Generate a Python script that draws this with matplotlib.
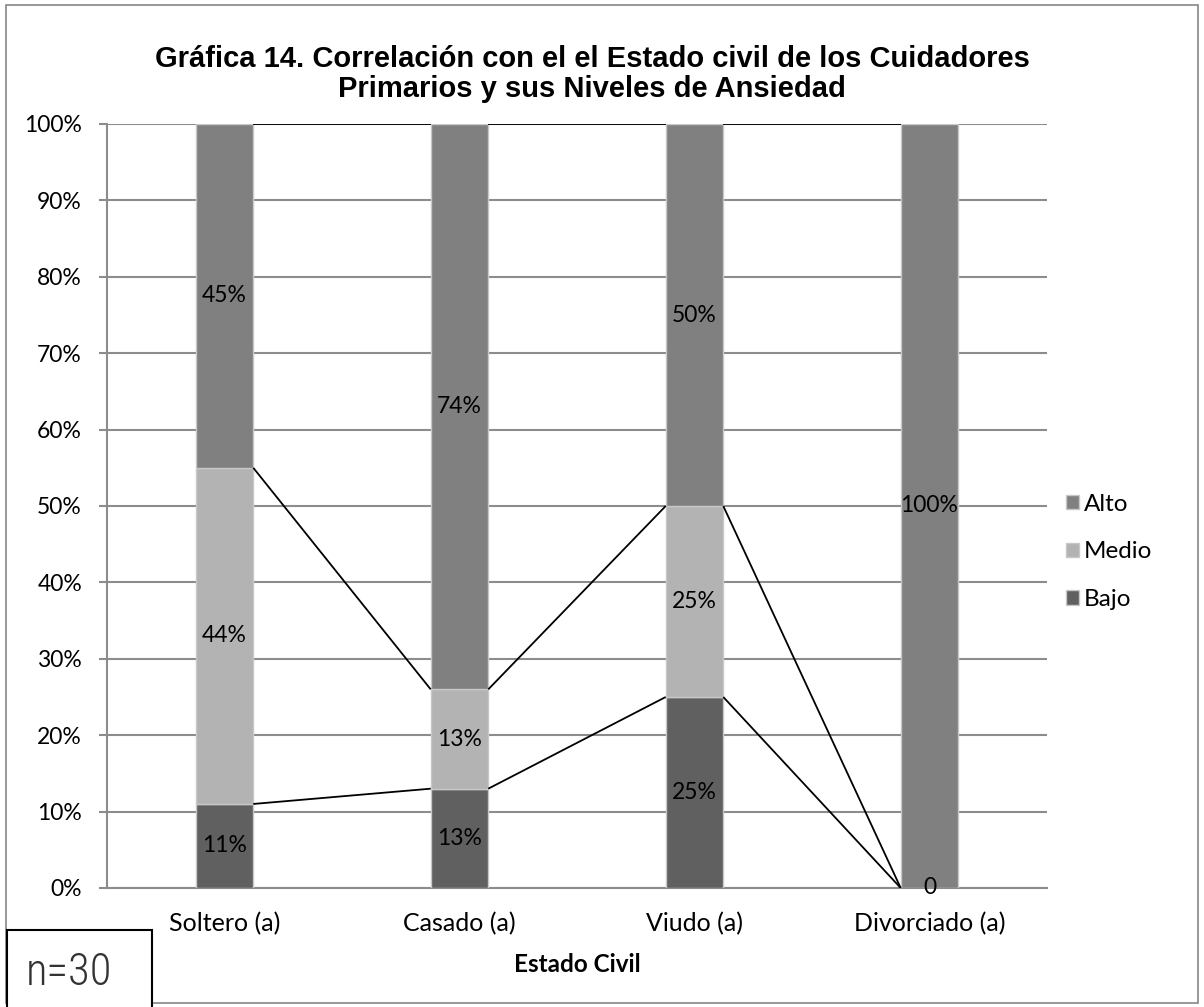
import matplotlib
matplotlib.use("Agg")
import matplotlib.pyplot as plt
from matplotlib.patches import Rectangle
import numpy as np

categories = ["Soltero (a)", "Casado (a)", "Viudo (a)", "Divorciado (a)"]
series_names = ["Bajo", "Medio", "Alto"]
bajo = [11, 13, 25, 0]
medio = [44, 13, 25, 0]
alto = [45, 74, 50, 100]
yticks = [0, 10, 20, 30, 40, 50, 60, 70, 80, 90, 100]
title1 = "Gráfica 14. Correlación con el el Estado civil de los Cuidadores"
title2 = "Primarios y sus Niveles de Ansiedad"
xlabel = "Estado Civil"
note = "n=30"

colors = {"Bajo": "#606060", "Medio": "#b3b3b3", "Alto": "#808080"}
W, H = 1204, 1007
fig = plt.figure(figsize=(W / 100, H / 100), dpi=100)

def fx(px):
    return px / W

def fy(py):
    return 1 - py / H

FS = 16.5
FAM = ["Lato", "DejaVu Sans"]

ax = fig.add_axes([fx(107), fy(888), fx(1047) - fx(107), (888 - 124) / H])
x = np.arange(len(categories))
bw = 0.245
values = [bajo, medio, alto]
bottom = np.zeros(len(categories))
handles = []
for name, vals in zip(series_names, values):
    v = np.array(vals, dtype=float)
    b = ax.bar(x, v, bw, bottom=bottom, color=colors[name], edgecolor="#c8c8c8",
               linewidth=1.0, zorder=3, label=name)
    handles.append(b)
    for xi, vi, bi in zip(x, v, bottom):
        txt = "0" if vi == 0 else f"{int(vi)}%"
        if vi == 0 and name != "Bajo":
            continue
        ax.text(xi, bi + vi / 2, txt, ha="center", va="center", fontsize=FS,
                family=FAM, color="#000000", zorder=5)
    tops = bottom + v
    for i in range(len(categories) - 1):
        ax.plot([x[i] + bw / 2, x[i + 1] - bw / 2], [tops[i], tops[i + 1]],
                color="black", lw=1.3, zorder=4, solid_capstyle="butt")
    bottom = tops

ax.set_xlim(-0.5, len(categories) - 0.5)
ax.set_ylim(0, 100)
ax.set_yticks(yticks)
ax.set_yticklabels([f"{t}%" for t in yticks], family=FAM, fontsize=FS)
ax.set_xticks(x)
ax.set_xticklabels(categories, family=FAM, fontsize=18)
ax.tick_params(axis="x", length=0, pad=17)
ax.tick_params(axis="y", length=6, width=1.5, color="#8c8c8c", pad=12)
ax.yaxis.grid(True, color="#8c8c8c", lw=1.5, zorder=0)
ax.set_axisbelow(True)
for s in ["top", "right"]:
    ax.spines[s].set_visible(False)
for s in ["left", "bottom"]:
    ax.spines[s].set_color("#8c8c8c")
    ax.spines[s].set_linewidth(1.5)
ax.set_xlabel(xlabel, family=FAM, fontsize=17.5, fontweight="bold")
ax.xaxis.set_label_coords(0.5, -(953 - 888) / 764)

fig.text(fx(592), fy(59), title1, ha="center", va="center", fontsize=21,
         fontweight="bold", family=["Liberation Sans", "DejaVu Sans"])
fig.text(fx(592), fy(89), title2, ha="center", va="center", fontsize=21,
         fontweight="bold", family=["Liberation Sans", "DejaVu Sans"])

leg = fig.legend(handles[::-1], series_names[::-1], loc="center left",
                 bbox_to_anchor=(fx(1066), fy(552)), frameon=False,
                 prop={"family": FAM, "size": 17.5},
                 handlelength=0.55, handleheight=0.55, handletextpad=0.2,
                 labelspacing=1.1, borderaxespad=0, borderpad=0)

fig.add_artist(Rectangle((fx(6), fy(1003)), fx(1198) - fx(6), (1003 - 5) / H,
                         transform=fig.transFigure, fill=False, edgecolor="#868686", lw=1.2))
fig.add_artist(Rectangle((fx(7), fy(1010)), fx(152) - fx(7), (1010 - 930) / H,
                         transform=fig.transFigure, facecolor="white", edgecolor="black", lw=1.5, zorder=10))
fig.text(fx(69), fy(973), note, ha="center", va="center", fontsize=32,
         family=["Liberation Sans Narrow", "Roboto Condensed", "DejaVu Sans"],
         fontstretch="condensed", fontweight="light", color="#333333", zorder=11)

fig.savefig("out.png", dpi=100)
